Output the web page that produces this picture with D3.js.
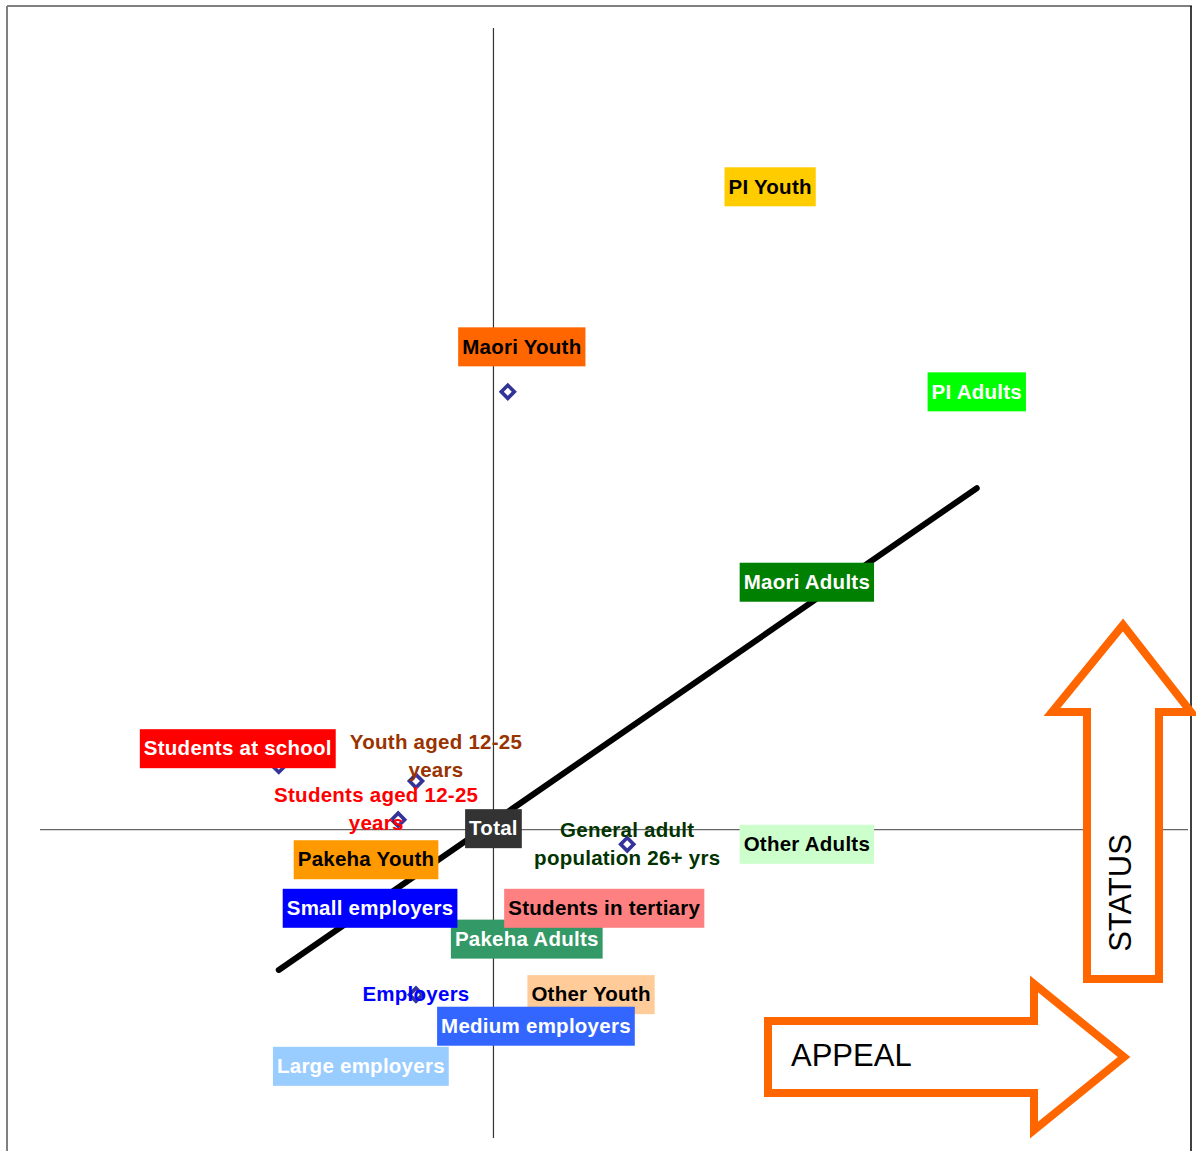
<!DOCTYPE html>
<meta charset="utf-8" />
<html lang="en">
  <head>
    <script src="https://d3js.org/d3.v7.min.js"></script>
    <style>
      body {
        margin: 0;
        background: #fff;
      }
      svg text {
        font-family: "Liberation Sans", Arial, sans-serif;
      }
      .lbl {
        font-size: 20.5px;
        font-weight: bold;
        text-anchor: middle;
        letter-spacing: 0.25px;
      }
    </style>
  </head>
  <body>
    <svg width="1196" height="1151"></svg>
    <script>
      // segments, in drawing order (later ones sit on top)
      var segments = [
        "PI Youth",
        "Maori Youth",
        "PI Adults",
        "Maori Adults",
        "Students at school",
        "Youth aged 12-25\nyears",
        "Students aged 12-25\nyears",
        "Total",
        "General adult\npopulation 26+ yrs",
        "Other Adults",
        "Pakeha Youth",
        "Pakeha Adults",
        "Small employers",
        "Students in tertiary",
        "Employers",
        "Other Youth",
        "Medium employers",
        "Large employers"
      ];
      var appealVals = [0.482, 0.025, 0.842, 0.546, -0.374, -0.135, -0.166, 0, 0.233, 0.546, -0.222, 0.058, -0.215, 0.193, -0.135, 0.17, 0.074, -0.231];
      var statusVals = [0.834, 0.568, 0.568, 0.321, 0.083, 0.063, 0.013, 0, -0.019, -0.019, -0.039, -0.142, -0.102, -0.102, -0.214, -0.214, -0.255, -0.307];
      var boxColor = ["#ffcc00", "#ff6600", "#00ff00", "#008000", "#ff0000", null, null, "#333333", null, "#ccffcc", "#ff9900", "#339966", "#0000ff", "#ff8080", null, "#ffcc99", "#3366ff", "#99ccff"];
      var textColor = ["#000", "#000", "#fff", "#fff", "#fff", "#993300", "#ff0000", "#fff", "#003300", "#000", "#000", "#fff", "#fff", "#000", "#0000ff", "#000", "#fff", "#fff"];

      // fitted line
      var trendAppeal = [-0.374, 0.842];
      var trendStatus = [-0.182, 0.443];

      // where the label sits relative to its point (px)
      var labelShift = {
        "Maori Youth": [14, -45],
        "Students at school": [-41, -17],
        "Youth aged 12-25\nyears": [20, -25],
        "Students aged 12-25\nyears": [-22, -10],
        "Total": [0, -1]
      };

      var svg = d3.select("svg");
      var x = d3.scaleLinear().domain([-0.79, 1.21]).range([40, 1188]);
      var y = d3.scaleLinear().domain([-0.4, 1.04]).range([1138, 28]);

      var data = segments.map(function(s, i) {
        return { name: s, a: appealVals[i], s: statusVals[i], box: boxColor[i], col: textColor[i] };
      });

      // frame
      svg.append("line").attr("x1", 7).attr("x2", 1192).attr("y1", 6).attr("y2", 6)
        .attr("stroke", "#808080").attr("stroke-width", 2);
      svg.append("line").attr("x1", 7).attr("x2", 7).attr("y1", 6).attr("y2", 1151)
        .attr("stroke", "#808080").attr("stroke-width", 2);
      svg.append("line").attr("x1", 1191).attr("x2", 1191).attr("y1", 6).attr("y2", 1151)
        .attr("stroke", "#000").attr("stroke-width", 1.5);

      // axes crossing at the total
      svg.append("line")
        .attr("x1", x(-0.79)).attr("x2", x(1.21)).attr("y1", y(0)).attr("y2", y(0))
        .attr("stroke", "#666").attr("stroke-width", 1.3);
      svg.append("line")
        .attr("x1", x(0)).attr("x2", x(0)).attr("y1", y(-0.4)).attr("y2", y(1.04))
        .attr("stroke", "#333").attr("stroke-width", 1.2);

      // trend line
      svg.append("line")
        .attr("x1", x(trendAppeal[0])).attr("y1", y(trendStatus[0]))
        .attr("x2", x(trendAppeal[1])).attr("y2", y(trendStatus[1]))
        .attr("stroke", "#000").attr("stroke-width", 6).attr("stroke-linecap", "round");

      // points
      svg.append("g").selectAll("path").data(data).enter().append("path")
        .attr("d", d3.symbol().type(d3.symbolSquare).size(85))
        .attr("transform", function(d) {
          return "translate(" + x(d.a) + "," + y(d.s) + ") rotate(45)";
        })
        .attr("fill", "#fff").attr("stroke", "#333399").attr("stroke-width", 3.6);

      // labels
      var lbl = svg.append("g").selectAll("g").data(data).enter().append("g")
        .attr("transform", function(d) {
          var sh = labelShift[d.name] || [0, 0];
          return "translate(" + (x(d.a) + sh[0]) + "," + (y(d.s) + sh[1]) + ")";
        });

      lbl.each(function(d) {
        var g = d3.select(this);
        var lines = d.name.split("\n");
        var t = g.append("text").attr("class", "lbl").attr("fill", d.col);
        lines.forEach(function(l, i) {
          t.append("tspan").attr("x", 0)
            .attr("y", (i - (lines.length - 1) / 2) * 28)
            .attr("dy", "0.33em").text(l);
        });
        if (d.box) {
          var bb = t.node().getBBox();
          g.insert("rect", "text")
            .attr("x", -bb.width / 2 - 4).attr("y", -19.5)
            .attr("width", bb.width + 8).attr("height", 39)
            .attr("fill", d.box);
        }
      });

      // direction arrows
      var orange = "#ff6600";
      var line = d3.line();
      svg.append("path")
        .attr("d", line([[768, 1021], [1034, 1021], [1034, 984], [1124, 1057], [1034, 1130], [1034, 1093], [768, 1093]]) + "Z")
        .attr("fill", "#fff").attr("stroke", orange).attr("stroke-width", 8);
      svg.append("text").attr("x", 791).attr("y", 1066)
        .attr("font-size", "31px").attr("fill", "#000").text("APPEAL");

      svg.append("path")
        .attr("d", line([[1087, 979], [1087, 712], [1052, 712], [1123, 625], [1191, 712], [1159, 712], [1159, 979]]) + "Z")
        .attr("fill", "#fff").attr("stroke", orange).attr("stroke-width", 8);
      svg.append("text")
        .attr("transform", "translate(1131,893) rotate(-90)")
        .attr("text-anchor", "middle")
        .attr("font-size", "31px").attr("fill", "#000").text("STATUS");
    </script>
  </body>
</html>
